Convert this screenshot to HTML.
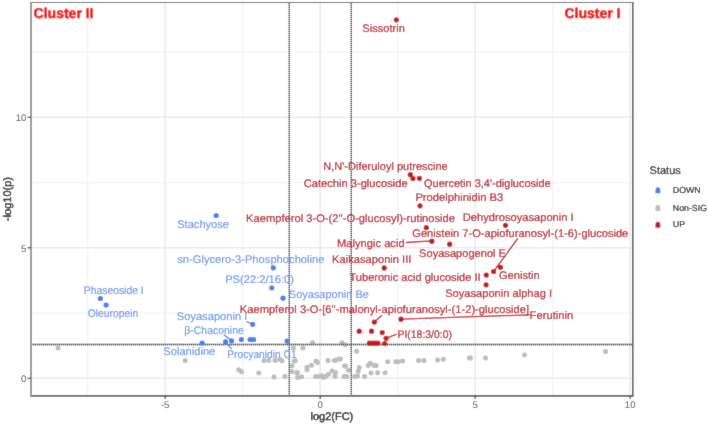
<!DOCTYPE html><html><head><meta charset="utf-8"><style>html,body{margin:0;padding:0;background:#fff;}svg{display:block;}text{font-family:"Liberation Sans",sans-serif;text-rendering:geometricPrecision;}</style></head><body>
<svg width="708" height="424" viewBox="0 0 708 424">
<defs><filter id="bl" x="0" y="0" width="708" height="424" filterUnits="userSpaceOnUse"><feConvolveMatrix order="3" kernelMatrix="1 2 1 2 28 2 1 2 1" edgeMode="duplicate" preserveAlpha="true"/></filter></defs>
<g filter="url(#bl)">
<rect x="0" y="0" width="708" height="424" fill="#fff"/>
<line x1="87.7" y1="2.5" x2="87.7" y2="395.9" stroke="#f3f3f3" stroke-width="1.2"/>
<line x1="242.7" y1="2.5" x2="242.7" y2="395.9" stroke="#f3f3f3" stroke-width="1.2"/>
<line x1="397.7" y1="2.5" x2="397.7" y2="395.9" stroke="#f3f3f3" stroke-width="1.2"/>
<line x1="552.7" y1="2.5" x2="552.7" y2="395.9" stroke="#f3f3f3" stroke-width="1.2"/>
<line x1="31.0" y1="313.1" x2="632.8" y2="313.1" stroke="#f3f3f3" stroke-width="1.2"/>
<line x1="31.0" y1="182.6" x2="632.8" y2="182.6" stroke="#f3f3f3" stroke-width="1.2"/>
<line x1="31.0" y1="52.1" x2="632.8" y2="52.1" stroke="#f3f3f3" stroke-width="1.2"/>
<line x1="165.2" y1="2.5" x2="165.2" y2="395.9" stroke="#ebebeb" stroke-width="1.6"/>
<line x1="320.2" y1="2.5" x2="320.2" y2="395.9" stroke="#ebebeb" stroke-width="1.6"/>
<line x1="475.2" y1="2.5" x2="475.2" y2="395.9" stroke="#ebebeb" stroke-width="1.6"/>
<line x1="630.2" y1="2.5" x2="630.2" y2="395.9" stroke="#ebebeb" stroke-width="1.6"/>
<line x1="31.0" y1="378.3" x2="632.8" y2="378.3" stroke="#ebebeb" stroke-width="1.6"/>
<line x1="31.0" y1="247.8" x2="632.8" y2="247.8" stroke="#ebebeb" stroke-width="1.6"/>
<line x1="31.0" y1="117.3" x2="632.8" y2="117.3" stroke="#ebebeb" stroke-width="1.6"/>
<circle cx="58.0" cy="348.1" r="2.5" fill="#bdbdbd"/>
<circle cx="185.2" cy="360.6" r="2.5" fill="#bdbdbd"/>
<circle cx="293.4" cy="348.0" r="2.5" fill="#bdbdbd"/>
<circle cx="264.1" cy="360.5" r="2.5" fill="#bdbdbd"/>
<circle cx="268.7" cy="360.5" r="2.5" fill="#bdbdbd"/>
<circle cx="275.1" cy="360.5" r="2.5" fill="#bdbdbd"/>
<circle cx="279.8" cy="359.6" r="2.5" fill="#bdbdbd"/>
<circle cx="282.0" cy="360.7" r="2.5" fill="#bdbdbd"/>
<circle cx="294.2" cy="361.0" r="2.5" fill="#bdbdbd"/>
<circle cx="292.0" cy="365.7" r="2.5" fill="#bdbdbd"/>
<circle cx="238.7" cy="369.7" r="2.5" fill="#bdbdbd"/>
<circle cx="241.5" cy="371.8" r="2.5" fill="#bdbdbd"/>
<circle cx="258.8" cy="373.1" r="2.5" fill="#bdbdbd"/>
<circle cx="292.0" cy="371.6" r="2.5" fill="#bdbdbd"/>
<circle cx="297.0" cy="372.7" r="2.5" fill="#bdbdbd"/>
<circle cx="274.0" cy="377.1" r="2.5" fill="#bdbdbd"/>
<circle cx="284.9" cy="376.6" r="2.5" fill="#bdbdbd"/>
<circle cx="297.7" cy="377.6" r="2.5" fill="#bdbdbd"/>
<circle cx="312.6" cy="342.7" r="2.5" fill="#bdbdbd"/>
<circle cx="342.0" cy="342.7" r="2.5" fill="#bdbdbd"/>
<circle cx="345.1" cy="344.8" r="2.5" fill="#bdbdbd"/>
<circle cx="302.9" cy="348.0" r="2.5" fill="#bdbdbd"/>
<circle cx="356.6" cy="351.3" r="2.5" fill="#bdbdbd"/>
<circle cx="316.0" cy="361.1" r="2.5" fill="#bdbdbd"/>
<circle cx="317.4" cy="362.4" r="2.5" fill="#bdbdbd"/>
<circle cx="311.5" cy="365.3" r="2.5" fill="#bdbdbd"/>
<circle cx="307.0" cy="367.3" r="2.5" fill="#bdbdbd"/>
<circle cx="307.0" cy="369.8" r="2.5" fill="#bdbdbd"/>
<circle cx="328.0" cy="360.6" r="2.5" fill="#bdbdbd"/>
<circle cx="334.4" cy="360.6" r="2.5" fill="#bdbdbd"/>
<circle cx="336.3" cy="359.9" r="2.5" fill="#bdbdbd"/>
<circle cx="339.1" cy="359.1" r="2.5" fill="#bdbdbd"/>
<circle cx="297.3" cy="372.4" r="2.5" fill="#bdbdbd"/>
<circle cx="301.6" cy="376.8" r="2.5" fill="#bdbdbd"/>
<circle cx="315.6" cy="376.6" r="2.5" fill="#bdbdbd"/>
<circle cx="318.9" cy="376.2" r="2.5" fill="#bdbdbd"/>
<circle cx="321.8" cy="375.7" r="2.5" fill="#bdbdbd"/>
<circle cx="323.5" cy="377.6" r="2.5" fill="#bdbdbd"/>
<circle cx="325.9" cy="376.2" r="2.5" fill="#bdbdbd"/>
<circle cx="328.4" cy="374.3" r="2.5" fill="#bdbdbd"/>
<circle cx="332.1" cy="371.0" r="2.5" fill="#bdbdbd"/>
<circle cx="335.4" cy="372.4" r="2.5" fill="#bdbdbd"/>
<circle cx="335.0" cy="376.2" r="2.5" fill="#bdbdbd"/>
<circle cx="344.1" cy="376.6" r="2.5" fill="#bdbdbd"/>
<circle cx="346.7" cy="376.6" r="2.5" fill="#bdbdbd"/>
<circle cx="344.5" cy="366.1" r="2.5" fill="#bdbdbd"/>
<circle cx="295.4" cy="360.7" r="2.5" fill="#bdbdbd"/>
<circle cx="340.5" cy="359.1" r="2.5" fill="#bdbdbd"/>
<circle cx="345.5" cy="366.0" r="2.5" fill="#bdbdbd"/>
<circle cx="348.5" cy="370.2" r="2.5" fill="#bdbdbd"/>
<circle cx="359.3" cy="367.4" r="2.5" fill="#bdbdbd"/>
<circle cx="358.2" cy="371.3" r="2.5" fill="#bdbdbd"/>
<circle cx="368.1" cy="365.5" r="2.5" fill="#bdbdbd"/>
<circle cx="370.2" cy="363.3" r="2.5" fill="#bdbdbd"/>
<circle cx="373.9" cy="365.5" r="2.5" fill="#bdbdbd"/>
<circle cx="376.0" cy="365.5" r="2.5" fill="#bdbdbd"/>
<circle cx="387.7" cy="361.7" r="2.5" fill="#bdbdbd"/>
<circle cx="395.7" cy="361.7" r="2.5" fill="#bdbdbd"/>
<circle cx="398.1" cy="361.7" r="2.5" fill="#bdbdbd"/>
<circle cx="402.6" cy="361.0" r="2.5" fill="#bdbdbd"/>
<circle cx="371.0" cy="373.1" r="2.5" fill="#bdbdbd"/>
<circle cx="377.6" cy="372.7" r="2.5" fill="#bdbdbd"/>
<circle cx="385.1" cy="372.7" r="2.5" fill="#bdbdbd"/>
<circle cx="344.8" cy="376.6" r="2.5" fill="#bdbdbd"/>
<circle cx="354.8" cy="376.6" r="2.5" fill="#bdbdbd"/>
<circle cx="357.5" cy="376.1" r="2.5" fill="#bdbdbd"/>
<circle cx="364.6" cy="376.6" r="2.5" fill="#bdbdbd"/>
<circle cx="418.6" cy="360.5" r="2.5" fill="#bdbdbd"/>
<circle cx="423.9" cy="360.5" r="2.5" fill="#bdbdbd"/>
<circle cx="437.6" cy="360.1" r="2.5" fill="#bdbdbd"/>
<circle cx="443.3" cy="359.3" r="2.5" fill="#bdbdbd"/>
<circle cx="469.5" cy="358.0" r="2.5" fill="#bdbdbd"/>
<circle cx="470.4" cy="357.9" r="2.5" fill="#bdbdbd"/>
<circle cx="485.5" cy="358.1" r="2.5" fill="#bdbdbd"/>
<circle cx="524.5" cy="354.9" r="2.5" fill="#bdbdbd"/>
<circle cx="605.6" cy="351.6" r="2.5" fill="#bdbdbd"/>
<line x1="289.3" y1="3" x2="289.3" y2="395.9" stroke="#a8a8a8" stroke-width="1.3"/>
<line x1="289.3" y1="3" x2="289.3" y2="395.9" stroke="#303030" stroke-width="1.3" stroke-dasharray="1 1"/>
<line x1="351.3" y1="3" x2="351.3" y2="395.9" stroke="#a8a8a8" stroke-width="1.3"/>
<line x1="351.3" y1="3" x2="351.3" y2="395.9" stroke="#303030" stroke-width="1.3" stroke-dasharray="1 1"/>
<line x1="31.0" y1="344.5" x2="632.8" y2="344.5" stroke="#a8a8a8" stroke-width="1.3"/>
<line x1="31.0" y1="344.5" x2="632.8" y2="344.5" stroke="#303030" stroke-width="1.3" stroke-dasharray="1 1"/>
<circle cx="100.4" cy="298.5" r="2.6" fill="#4a80ee"/>
<circle cx="106.1" cy="305.0" r="2.6" fill="#4a80ee"/>
<circle cx="216.2" cy="215.5" r="2.6" fill="#4a80ee"/>
<circle cx="273.3" cy="267.8" r="2.6" fill="#4a80ee"/>
<circle cx="271.8" cy="287.8" r="2.6" fill="#4a80ee"/>
<circle cx="283.0" cy="298.2" r="2.6" fill="#4a80ee"/>
<circle cx="252.7" cy="324.3" r="2.6" fill="#4a80ee"/>
<circle cx="202.1" cy="343.0" r="2.6" fill="#4a80ee"/>
<circle cx="225.6" cy="341.9" r="2.6" fill="#4a80ee"/>
<circle cx="231.6" cy="340.8" r="2.6" fill="#4a80ee"/>
<circle cx="241.4" cy="339.5" r="2.6" fill="#4a80ee"/>
<circle cx="250.2" cy="339.5" r="2.6" fill="#4a80ee"/>
<circle cx="253.6" cy="339.5" r="2.6" fill="#4a80ee"/>
<circle cx="287.1" cy="341.1" r="2.6" fill="#4a80ee"/>
<circle cx="396.3" cy="19.8" r="2.6" fill="#c8161e"/>
<circle cx="410.3" cy="174.7" r="2.6" fill="#c8161e"/>
<circle cx="413.0" cy="178.6" r="2.6" fill="#c8161e"/>
<circle cx="419.4" cy="178.3" r="2.6" fill="#c8161e"/>
<circle cx="420.0" cy="205.8" r="2.6" fill="#c8161e"/>
<circle cx="505.5" cy="225.3" r="2.6" fill="#c8161e"/>
<circle cx="426.3" cy="227.7" r="2.6" fill="#c8161e"/>
<circle cx="431.9" cy="241.2" r="2.6" fill="#c8161e"/>
<circle cx="449.7" cy="244.2" r="2.6" fill="#c8161e"/>
<circle cx="384.2" cy="267.9" r="2.6" fill="#c8161e"/>
<circle cx="486.3" cy="275.1" r="2.6" fill="#c8161e"/>
<circle cx="486.1" cy="284.8" r="2.6" fill="#c8161e"/>
<circle cx="493.6" cy="271.5" r="2.6" fill="#c8161e"/>
<circle cx="500.5" cy="267.3" r="2.6" fill="#c8161e"/>
<circle cx="374.3" cy="322.1" r="2.6" fill="#c8161e"/>
<circle cx="401.0" cy="319.2" r="2.6" fill="#c8161e"/>
<circle cx="359.2" cy="331.2" r="2.6" fill="#c8161e"/>
<circle cx="371.5" cy="331.2" r="2.6" fill="#c8161e"/>
<circle cx="382.2" cy="332.5" r="2.6" fill="#c8161e"/>
<circle cx="386.1" cy="338.3" r="2.6" fill="#c8161e"/>
<circle cx="384.7" cy="343.5" r="2.6" fill="#c8161e"/>
<circle cx="369.4" cy="343.2" r="2.6" fill="#c8161e"/>
<circle cx="372.3" cy="343.2" r="2.6" fill="#c8161e"/>
<circle cx="375.0" cy="343.2" r="2.6" fill="#c8161e"/>
<circle cx="377.9" cy="343.2" r="2.6" fill="#c8161e"/>
<line x1="517.7" y1="238.5" x2="494.0" y2="271.0" stroke="#c8161e" stroke-width="1.3"/>
<line x1="406.1" y1="242.5" x2="431.8" y2="240.9" stroke="#c8161e" stroke-width="1.3"/>
<line x1="381.9" y1="315.2" x2="374.3" y2="322.1" stroke="#c8161e" stroke-width="1.3"/>
<line x1="401.1" y1="319.2" x2="529.5" y2="314.8" stroke="#c8161e" stroke-width="1.3"/>
<line x1="396.6" y1="334.1" x2="386.1" y2="338.3" stroke="#c8161e" stroke-width="1.3"/>
<line x1="246.3" y1="321.5" x2="252.7" y2="324.3" stroke="#4a80ee" stroke-width="1.3"/>
<line x1="223.8" y1="334.7" x2="231.4" y2="340.6" stroke="#4a80ee" stroke-width="1.3"/>
<line x1="225.6" y1="341.9" x2="231.6" y2="349.2" stroke="#4a80ee" stroke-width="1.3"/>
<text x="362.3" y="31.7" font-size="11" fill="#b8141f" stroke="#b8141f" stroke-width="0.2" textLength="42.5" lengthAdjust="spacingAndGlyphs">Sissotrin</text>
<text x="323.3" y="169.8" font-size="11" fill="#b8141f" stroke="#b8141f" stroke-width="0.2" textLength="124.4" lengthAdjust="spacingAndGlyphs">N,N'-Diferuloyl putrescine</text>
<text x="303.7" y="187.1" font-size="11" fill="#b8141f" stroke="#b8141f" stroke-width="0.2" textLength="104.0" lengthAdjust="spacingAndGlyphs">Catechin 3-glucoside</text>
<text x="424.0" y="186.6" font-size="11" fill="#b8141f" stroke="#b8141f" stroke-width="0.2" textLength="126.7" lengthAdjust="spacingAndGlyphs">Quercetin 3,4'-diglucoside</text>
<text x="415.4" y="201.0" font-size="11" fill="#b8141f" stroke="#b8141f" stroke-width="0.2" textLength="87.8" lengthAdjust="spacingAndGlyphs">Prodelphinidin B3</text>
<text x="246.1" y="222.3" font-size="11" fill="#b8141f" stroke="#b8141f" stroke-width="0.2" textLength="208.9" lengthAdjust="spacingAndGlyphs">Kaempferol 3-O-(2''-O-glucosyl)-rutinoside</text>
<text x="462.8" y="220.5" font-size="11" fill="#b8141f" stroke="#b8141f" stroke-width="0.2" textLength="110.9" lengthAdjust="spacingAndGlyphs">Dehydrosoyasaponin I</text>
<text x="412.3" y="237.3" font-size="11" fill="#b8141f" stroke="#b8141f" stroke-width="0.2" textLength="216.0" lengthAdjust="spacingAndGlyphs">Genistein 7-O-apiofuranosyl-(1-6)-glucoside</text>
<text x="337.1" y="246.7" font-size="11" fill="#b8141f" stroke="#b8141f" stroke-width="0.2" textLength="67.5" lengthAdjust="spacingAndGlyphs">Malyngic acid</text>
<text x="419.1" y="256.6" font-size="11" fill="#b8141f" stroke="#b8141f" stroke-width="0.2" textLength="86.9" lengthAdjust="spacingAndGlyphs">Soyasapogenol E</text>
<text x="332.1" y="263.4" font-size="11" fill="#b8141f" stroke="#b8141f" stroke-width="0.2" textLength="79.3" lengthAdjust="spacingAndGlyphs">Kaikasaponin III</text>
<text x="349.5" y="280.8" font-size="11" fill="#b8141f" stroke="#b8141f" stroke-width="0.2" textLength="131.1" lengthAdjust="spacingAndGlyphs">Tuberonic acid glucoside II</text>
<text x="498.9" y="279.3" font-size="11" fill="#b8141f" stroke="#b8141f" stroke-width="0.2" textLength="40.8" lengthAdjust="spacingAndGlyphs">Genistin</text>
<text x="445.2" y="297.3" font-size="11" fill="#b8141f" stroke="#b8141f" stroke-width="0.2" textLength="106.9" lengthAdjust="spacingAndGlyphs">Soyasaponin alphag I</text>
<text x="239.8" y="313.0" font-size="11" fill="#b8141f" stroke="#b8141f" stroke-width="0.2" textLength="289.2" lengthAdjust="spacingAndGlyphs">Kaempferol 3-O-[6''-malonyl-apiofuranosyl-(1-2)-glucoside]</text>
<text x="529.6" y="318.8" font-size="11" fill="#b8141f" stroke="#b8141f" stroke-width="0.2" textLength="43.6" lengthAdjust="spacingAndGlyphs">Ferutinin</text>
<text x="397.5" y="338.4" font-size="11" fill="#b8141f" stroke="#b8141f" stroke-width="0.2" textLength="54.4" lengthAdjust="spacingAndGlyphs">PI(18:3/0:0)</text>
<text x="177.2" y="227.8" font-size="11" fill="#6a96ee" stroke="#6a96ee" stroke-width="0.15" textLength="51.8" lengthAdjust="spacingAndGlyphs">Stachyose</text>
<text x="177.2" y="263.4" font-size="11" fill="#6a96ee" stroke="#6a96ee" stroke-width="0.15" textLength="147.3" lengthAdjust="spacingAndGlyphs">sn-Glycero-3-Phosphocholine</text>
<text x="225.2" y="283.4" font-size="11" fill="#6a96ee" stroke="#6a96ee" stroke-width="0.15" textLength="68.8" lengthAdjust="spacingAndGlyphs">PS(22:2/16:0)</text>
<text x="288.8" y="298.1" font-size="11" fill="#6a96ee" stroke="#6a96ee" stroke-width="0.15" textLength="80.1" lengthAdjust="spacingAndGlyphs">Soyasaponin Be</text>
<text x="83.8" y="293.6" font-size="11" fill="#6a96ee" stroke="#6a96ee" stroke-width="0.15" textLength="59.9" lengthAdjust="spacingAndGlyphs">Phaseoside I</text>
<text x="87.7" y="316.7" font-size="11" fill="#6a96ee" stroke="#6a96ee" stroke-width="0.15" textLength="50.5" lengthAdjust="spacingAndGlyphs">Oleuropein</text>
<text x="176.7" y="319.5" font-size="11" fill="#6a96ee" stroke="#6a96ee" stroke-width="0.15" textLength="70.7" lengthAdjust="spacingAndGlyphs">Soyasaponin I</text>
<text x="184.3" y="333.5" font-size="11" fill="#6a96ee" stroke="#6a96ee" stroke-width="0.15" textLength="59.5" lengthAdjust="spacingAndGlyphs">β-Chaconine</text>
<text x="163.3" y="355.3" font-size="11" fill="#6a96ee" stroke="#6a96ee" stroke-width="0.15" textLength="52.0" lengthAdjust="spacingAndGlyphs">Solanidine</text>
<text x="227.2" y="358.4" font-size="11" fill="#6a96ee" stroke="#6a96ee" stroke-width="0.15" textLength="69.5" lengthAdjust="spacingAndGlyphs">Procyanidin C1</text>
<text x="33.6" y="18.4" font-size="14" font-weight="bold" fill="#ff0000" stroke="#ff0000" stroke-width="0.5">Cluster II</text>
<text x="564.5" y="18.4" font-size="14" font-weight="bold" fill="#ff0000" stroke="#ff0000" stroke-width="0.5">Cluster I</text>
<line x1="30.0" y1="2.5" x2="633.5999999999999" y2="2.5" stroke="#6a6a6a" stroke-width="1.2"/>
<line x1="30.0" y1="395.9" x2="633.5999999999999" y2="395.9" stroke="#5e5e5e" stroke-width="1.7"/>
<line x1="31.0" y1="2.5" x2="31.0" y2="395.9" stroke="#9a9a9a" stroke-width="2"/>
<line x1="632.8" y1="2.5" x2="632.8" y2="395.9" stroke="#505050" stroke-width="1.5"/>
<line x1="165.2" y1="395.9" x2="165.2" y2="399" stroke="#333" stroke-width="1.1"/>
<text x="165.2" y="407.6" font-size="9.6" fill="#4d4d4d" text-anchor="middle">-5</text>
<line x1="320.2" y1="395.9" x2="320.2" y2="399" stroke="#333" stroke-width="1.1"/>
<text x="320.2" y="407.6" font-size="9.6" fill="#4d4d4d" text-anchor="middle">0</text>
<line x1="475.2" y1="395.9" x2="475.2" y2="399" stroke="#333" stroke-width="1.1"/>
<text x="475.2" y="407.6" font-size="9.6" fill="#4d4d4d" text-anchor="middle">5</text>
<line x1="630.2" y1="395.9" x2="630.2" y2="399" stroke="#333" stroke-width="1.1"/>
<text x="630.2" y="407.6" font-size="9.6" fill="#4d4d4d" text-anchor="middle">10</text>
<line x1="27.5" y1="378.3" x2="31.0" y2="378.3" stroke="#333" stroke-width="1.1"/>
<text x="26.3" y="382.0" font-size="9.6" fill="#4d4d4d" text-anchor="end">0</text>
<line x1="27.5" y1="247.8" x2="31.0" y2="247.8" stroke="#333" stroke-width="1.1"/>
<text x="26.3" y="251.5" font-size="9.6" fill="#4d4d4d" text-anchor="end">5</text>
<line x1="27.5" y1="117.3" x2="31.0" y2="117.3" stroke="#333" stroke-width="1.1"/>
<text x="26.3" y="121.0" font-size="9.6" fill="#4d4d4d" text-anchor="end">10</text>
<text x="331.9" y="420" font-size="11" fill="#000" stroke="#000" stroke-width="0.3" text-anchor="middle">log2(FC)</text>
<text transform="translate(10.7,199) rotate(-90)" x="0" y="0" font-size="11" fill="#000" stroke="#000" stroke-width="0.3" text-anchor="middle">-log10(p)</text>
<text x="649.6" y="174.4" font-size="11" fill="#111" stroke="#111" stroke-width="0.2">Status</text>
<text x="672.8" y="193.0" font-size="8.8" fill="#111" stroke="#111" stroke-width="0.15">DOWN</text>
<path d="M655.5,193.6 L655.5,189.7 A2.4,2.4 0 0 1 660.3,189.7 L660.3,193.6 L659.3,192.9 L658.5,193.6 L657.3,193.6 L656.5,192.9 Z" fill="#4a80ee"/>
<text x="672.8" y="210.6" font-size="8.8" fill="#111" stroke="#111" stroke-width="0.15">Non-SIG</text>
<path d="M655.5,211.2 L655.5,207.3 A2.4,2.4 0 0 1 660.3,207.3 L660.3,211.2 L659.3,210.5 L658.5,211.2 L657.3,211.2 L656.5,210.5 Z" fill="#bdbdbd"/>
<text x="672.8" y="227.4" font-size="8.8" fill="#111" stroke="#111" stroke-width="0.15">UP</text>
<path d="M655.5,228.0 L655.5,224.1 A2.4,2.4 0 0 1 660.3,224.1 L660.3,228.0 L659.3,227.3 L658.5,228.0 L657.3,228.0 L656.5,227.3 Z" fill="#c8161e"/>
</g></svg></body></html>
